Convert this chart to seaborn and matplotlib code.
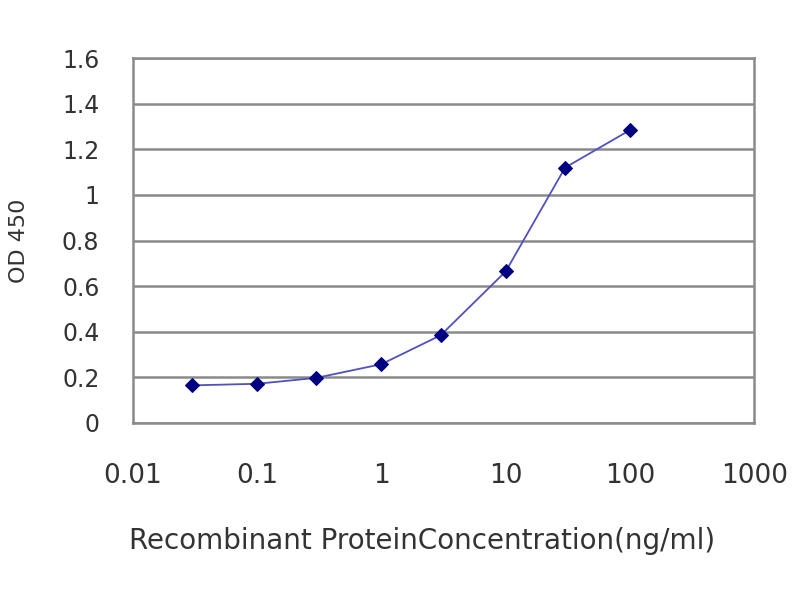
import numpy as np
import pandas as pd
import matplotlib
matplotlib.use("Agg")
import matplotlib.pyplot as plt
import seaborn as sns
from matplotlib.ticker import FixedLocator, FixedFormatter, NullLocator

# Data
concentration = [0.03, 0.1, 0.3, 1, 3, 10, 30, 100]
od450 = [0.165, 0.172, 0.198, 0.258, 0.385, 0.665, 1.12, 1.285]
x_ticks = [0.01, 0.1, 1, 10, 100, 1000]
x_tick_labels = ["0.01", "0.1", "1", "10", "100", "1000"]
y_ticks = [0, 0.2, 0.4, 0.6, 0.8, 1.0, 1.2, 1.4, 1.6]
y_tick_labels = ["0", "0.2", "0.4", "0.6", "0.8", "1", "1.2", "1.4", "1.6"]

df = pd.DataFrame({"conc": concentration, "od": od450})

sns.set_style("white")
# wider face to get closer to the stretched look of the reference text
plt.rcParams["font.family"] = ["DejaVu Sans"]

fig = plt.figure(figsize=(8, 6), dpi=100)
ax = fig.add_axes([0.166, 0.295, 0.777, 0.608])

ax.set_xscale("log")
sns.lineplot(data=df, x="conc", y="od", ax=ax, color="#5050c0", linewidth=1.3,
             marker="D", markersize=7, markerfacecolor="#000080",
             markeredgecolor="#000080", zorder=3)

ax.set_xlim(0.01, 1000)
ax.set_ylim(0, 1.6)
ax.xaxis.set_major_locator(FixedLocator(x_ticks))
ax.xaxis.set_major_formatter(FixedFormatter(x_tick_labels))
ax.xaxis.set_minor_locator(NullLocator())
ax.yaxis.set_major_locator(FixedLocator(y_ticks))
ax.yaxis.set_major_formatter(FixedFormatter(y_tick_labels))

ax.yaxis.grid(True, color="#8a8a8a", linewidth=1.8)
ax.xaxis.grid(False)
ax.set_axisbelow(True)

for side in ["left", "right", "top", "bottom"]:
    ax.spines[side].set_visible(True)
    ax.spines[side].set_color("#8a8a8a")
    ax.spines[side].set_linewidth(1.8)

ax.tick_params(axis="x", direction="in", length=6, width=1.5, color="#8a8a8a",
               pad=29, labelsize=19, labelcolor="#333333")
ax.tick_params(axis="y", direction="out", length=0, pad=24, labelsize=17,
               labelcolor="#333333")

ax.set_xlabel("Recombinant ProteinConcentration(ng/ml)", fontsize=20,
              color="#333333")
ax.xaxis.set_label_coords(0.465, -0.285)
ax.set_ylabel("OD 450", fontsize=16, color="#333333", labelpad=24)

fig.savefig("out.png", dpi=100)
